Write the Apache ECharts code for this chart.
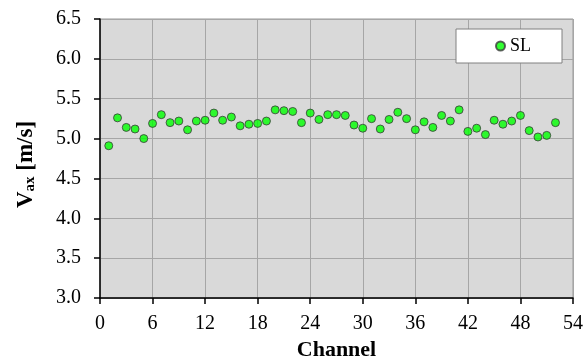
<!DOCTYPE html>
<html>
<head>
<meta charset="utf-8">
<script src="https://cdn.jsdelivr.net/npm/echarts@6/dist/echarts.min.js"></script>
<style>
  html, body { margin: 0; padding: 0; background: #fff; }
  #chart { width: 585px; height: 360px; }
</style>
</head>
<body>
<div id="chart"></div>
<script>
const channels = [];
for (let i = 1; i <= 52; i++) channels.push(i);
const vaxSL = [
  4.91, 5.26, 5.14, 5.12, 5.00, 5.19, 5.30, 5.20, 5.22, 5.11,
  5.22, 5.23, 5.32, 5.23, 5.27, 5.16, 5.18, 5.19, 5.22, 5.36,
  5.35, 5.34, 5.20, 5.32, 5.24, 5.30, 5.30, 5.29, 5.17, 5.13,
  5.25, 5.12, 5.24, 5.33, 5.25, 5.11, 5.21, 5.14, 5.29, 5.22,
  5.36, 5.09, 5.13, 5.05, 5.23, 5.18, 5.22, 5.29, 5.10, 5.02,
  5.04, 5.20
];
const seriesName = 'SL';

const font = 'Liberation Serif, Times New Roman, serif';
const chart = echarts.init(document.getElementById('chart'), null, { renderer: 'canvas' });

const option = {
  animation: false,
  grid: {
    left: 100,
    right: 12,
    top: 19,
    bottom: 62,
    outerBoundsMode: 'none',
    show: true,
    backgroundColor: '#d9d9d9',
    borderColor: '#999999',
    borderWidth: 1
  },
  legend: {
    left: 456,
    top: 29,
    backgroundColor: '#ffffff',
    borderColor: '#808080',
    borderWidth: 1,
    padding: [8, 31, 8, 39],
    itemWidth: 9,
    itemHeight: 9,
    itemGap: 4,
    textStyle: { fontFamily: font, fontSize: 18, color: '#000' },
    data: [seriesName]
  },
  xAxis: {
    type: 'value',
    min: 0,
    max: 54,
    interval: 6,
    name: 'Channel',
    nameLocation: 'middle',
    nameGap: 36,
    nameTextStyle: { fontFamily: font, fontSize: 22, fontWeight: 'bold', color: '#000' },
    axisLine: { show: true, onZero: false, lineStyle: { color: '#000', width: 1.5 } },
    axisTick: { show: true, inside: false, length: 6, lineStyle: { color: '#000', width: 1.5 } },
    axisLabel: { fontFamily: font, fontSize: 20, color: '#000', margin: 16 },
    splitLine: { show: true, lineStyle: { color: '#a6a6a6', width: 1 } }
  },
  yAxis: {
    type: 'value',
    min: 3.0,
    max: 6.5,
    interval: 0.5,
    name: '{v|V}{s|ax}{v| [m/s]}',
    nameLocation: 'middle',
    nameGap: 62,
    nameTextStyle: {
      fontFamily: font,
      fontSize: 23,
      fontWeight: 'bold',
      color: '#000',
      padding: [0, 12, 0, 0],
      rich: {
        v: { fontFamily: font, fontSize: 23, fontWeight: 'bold', color: '#000' },
        s: { fontFamily: font, fontSize: 15, fontWeight: 'bold', color: '#000', padding: [9, 0, 0, 0] }
      }
    },
    axisLine: { show: true, onZero: false, lineStyle: { color: '#000', width: 1.5 } },
    axisTick: { show: true, inside: false, length: 6, lineStyle: { color: '#000', width: 1.5 } },
    axisLabel: {
      fontFamily: font,
      fontSize: 20,
      color: '#000',
      margin: 19,
      formatter: function (v) { return v.toFixed(1); }
    },
    splitLine: { show: true, lineStyle: { color: '#a6a6a6', width: 1 } }
  },
  series: [
    {
      name: seriesName,
      type: 'scatter',
      symbol: 'circle',
      symbolSize: 8,
      itemStyle: { color: '#00ff00', borderColor: '#3a3a3a', borderWidth: 1 },
      data: channels.map((c, i) => [c, vaxSL[i]])
    }
  ]
};
chart.setOption(option);
</script>
</body>
</html>
